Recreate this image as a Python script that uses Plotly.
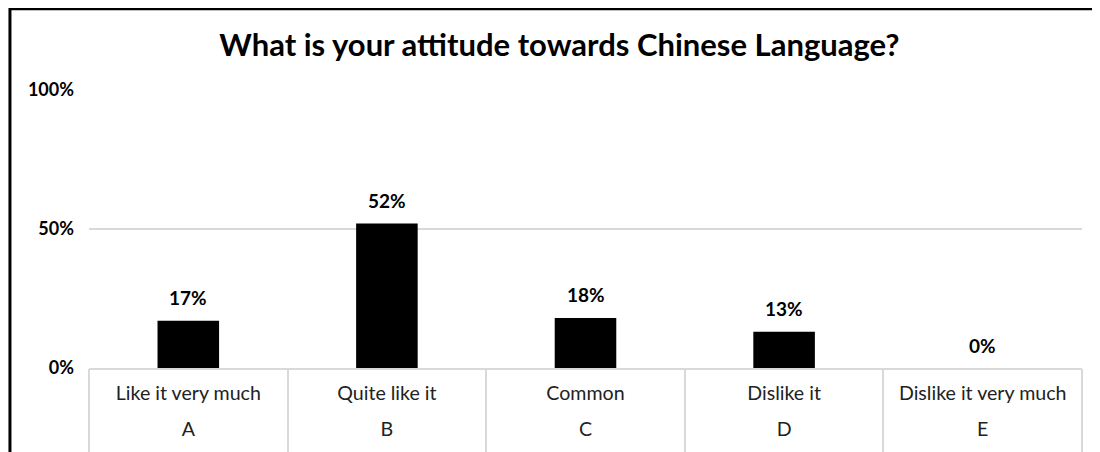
import plotly.graph_objects as go

letters = ["A", "B", "C", "D", "E"]
labels = ["Like it very much", "Quite like it", "Common", "Dislike it", "Dislike it very much"]
values = [0.17, 0.52, 0.18, 0.13, 0.0]
title = "What is your attitude towards Chinese Language?"

FONT = "Lato, Open Sans, sans-serif"
GRID = "#d9d9d9"

fig = go.Figure()
fig.add_trace(go.Bar(
    x=labels, y=values, xaxis="x", yaxis="y",
    marker=dict(color="black", line=dict(width=0)),
    width=0.31, hoverinfo="skip",
))
# invisible companion traces so the letter axis and divider axis have their categories
for ax in ("x2", "x3"):
    fig.add_trace(go.Bar(
        x=letters, y=values, xaxis=ax, yaxis="y",
        marker=dict(color="rgba(0,0,0,0)", line=dict(width=0)),
        width=0.31, hoverinfo="skip",
    ))

for lab, v in zip(labels, values):
    fig.add_annotation(
        x=lab, y=v, xref="x", yref="y",
        text=f"<b>{round(v*100)}%</b>", showarrow=False,
        yshift=23, font=dict(family=FONT, size=19, color="black"),
    )

cat_common = dict(fixedrange=True, automargin=False, showgrid=False, zeroline=False)

fig.update_layout(
    width=1092, height=444,
    margin=dict(l=81, r=18, t=82, b=84),
    paper_bgcolor="white", plot_bgcolor="white",
    showlegend=False, barmode="overlay",
    title=dict(text=f"<b>{title}</b>", x=0.505, xanchor="center", y=0.917, yanchor="middle",
               font=dict(family=FONT, size=31, color="black")),
    xaxis=dict(
        type="category", categoryorder="array", categoryarray=labels,
        range=[-0.5, len(labels) - 0.5],
        tickfont=dict(family=FONT, size=19.6, color="#222"),
        showline=True, linecolor=GRID, linewidth=2,
        ticks="", ticklabelstandoff=6, **cat_common,
    ),
    xaxis2=dict(
        type="category", categoryorder="array", categoryarray=letters,
        range=[-0.5, len(letters) - 0.5],
        overlaying="x", anchor="y", side="bottom",
        tickfont=dict(family=FONT, size=19.6, color="#222"),
        showline=False, ticks="", ticklabelstandoff=47, **cat_common,
    ),
    xaxis3=dict(
        type="category", categoryorder="array", categoryarray=letters,
        range=[-0.5, len(letters) - 0.5],
        overlaying="x", anchor="y", side="bottom",
        showticklabels=False, showline=False,
        ticks="outside", tickson="boundaries", ticklen=84, tickwidth=2, tickcolor=GRID,
        **cat_common,
    ),
    yaxis=dict(
        range=[0, 1], tickvals=[0, 0.5, 1], tickformat=".0%",
        tickfont=dict(family=FONT, size=18, color="black", weight="bold"),
        showgrid=True, gridcolor=GRID, gridwidth=2,
        zeroline=False, automargin=False,
        ticks="", ticklabelstandoff=14, fixedrange=True,
    ),
)

fig.add_shape(type="rect", xref="paper", yref="paper",
              x0=-0.0796, x1=1.3, y0=-0.8, y1=1.292,
              line=dict(color="black", width=3), fillcolor="rgba(0,0,0,0)", layer="above")

fig.write_html("out.html")
